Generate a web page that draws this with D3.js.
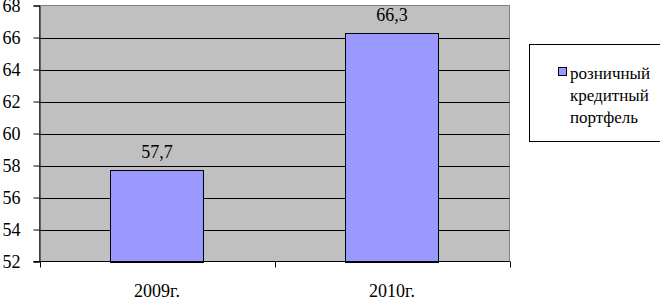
<!DOCTYPE html>
<html>
<head>
<meta charset="utf-8">
<script src="https://cdn.jsdelivr.net/npm/d3@7"></script>
<style>
  svg text { font-family: 'Times New Roman', 'Liberation Serif', serif !important; }
</style>
</head>
<body style="margin:0">
<div class="chart"></div>
<script>
(function() {

  var categories = ['2009г.', '2010г.'];
  var values = [57.7, 66.3];
  var valueLabels = ['57,7', '66,3'];
  var yTicks = [52, 54, 56, 58, 60, 62, 64, 66, 68];
  var legendLines = ['розничный', 'кредитный', 'портфель'];

  var svg = d3.select('.chart')
    .append('svg')
    .attr('width', 660)
    .attr('height', 297);

  var left = 39.5, right = 509.5, top = 5.5, bottom = 261.5;

  var x = d3.scaleBand()
    .domain(categories)
    .range([left, right])
    .paddingInner(0.6)
    .paddingOuter(0.3);

  var xOuter = d3.scaleBand()
    .domain(categories)
    .range([left, right]);

  var y = d3.scaleLinear()
    .domain([52, 68])
    .range([bottom, top]);

  // plot background
  svg.append('rect')
    .attr('x', left)
    .attr('y', top)
    .attr('width', right - left)
    .attr('height', bottom - top)
    .attr('fill', '#c0c0c0')
    .attr('stroke', '#808080');

  // gridlines
  svg.selectAll('.grid').data(yTicks.slice(1, -1)).enter()
    .append('line')
    .attr('x1', left)
    .attr('x2', right)
    .attr('y1', function(d){ return Math.round(y(d)) + 0.5; })
    .attr('y2', function(d){ return Math.round(y(d)) + 0.5; })
    .attr('stroke', '#000');

  // bars
  svg.selectAll('.bar').data(values).enter()
    .append('rect')
    .attr('x', function(d, i){ return Math.round(x(categories[i])) + 0.5; })
    .attr('y', function(d){ return Math.round(y(d)) + 0.5; })
    .attr('width', Math.round(x.bandwidth()) - 1)
    .attr('height', function(d){ return Math.round(y(52)) - Math.round(y(d)); })
    .attr('fill', '#9999ff')
    .attr('stroke', '#000');

  // value labels
  svg.selectAll('.val').data(values).enter()
    .append('text')
    .attr('x', function(d, i){ return x(categories[i]) + x.bandwidth() / 2; })
    .attr('y', function(d){ return y(d) - 12; })
    .attr('text-anchor', 'middle')
    .style('font-size', '18px')
    .style('font-family', 'Times New Roman')
    .text(function(d, i){ return valueLabels[i]; });

  // y axis
  var yAxis = d3.axisLeft(y)
    .tickValues(yTicks)
    .tickSize(6)
    .tickPadding(13)
    .tickFormat(d3.format('d'));

  var gy = svg.append('g')
    .attr('transform', 'translate(' + left + ',0)')
    .call(yAxis);
  gy.select('.domain').attr('stroke', '#000');
  gy.selectAll('line').attr('stroke', '#000');
  gy.selectAll('text')
    .attr('fill', '#000')
    .style('font-size', '18px')
    .style('font-family', 'Times New Roman');

  // x axis
  var gx = svg.append('g')
    .attr('transform', 'translate(0,' + bottom + ')');
  gx.append('line')
    .attr('x1', left - 6).attr('x2', right)
    .attr('y1', 0).attr('y2', 0)
    .attr('stroke', '#000');
  var xTickPos = [left, xOuter(categories[1]), right];
  gx.selectAll('.xt').data(xTickPos).enter()
    .append('line')
    .attr('x1', function(d){ return Math.round(d) + 0.5; })
    .attr('x2', function(d){ return Math.round(d) + 0.5; })
    .attr('y1', 0).attr('y2', 6)
    .attr('stroke', '#000');
  gx.selectAll('.xl').data(categories).enter()
    .append('text')
    .attr('x', function(d){ return xOuter(d) + xOuter.bandwidth() / 2; })
    .attr('y', 35)
    .attr('text-anchor', 'middle')
    .style('font-size', '18px')
    .style('font-family', 'Times New Roman')
    .text(function(d){ return d; });

  // legend
  var lg = svg.append('g');
  lg.append('rect')
    .attr('x', 529.5)
    .attr('y', 44.5)
    .attr('width', 140)
    .attr('height', 97)
    .attr('fill', '#fff')
    .attr('stroke', '#000');
  lg.append('rect')
    .attr('x', 558.5)
    .attr('y', 67.5)
    .attr('width', 8)
    .attr('height', 8)
    .attr('fill', '#9999ff')
    .attr('stroke', '#000');
  lg.selectAll('.lt').data(legendLines).enter()
    .append('text')
    .attr('x', 570)
    .attr('y', function(d, i){ return 79 + i * 22; })
    .style('font-size', '17px')
    .style('font-family', 'Times New Roman')
    .text(function(d){ return d; });

})();
</script>
</body>
</html>
